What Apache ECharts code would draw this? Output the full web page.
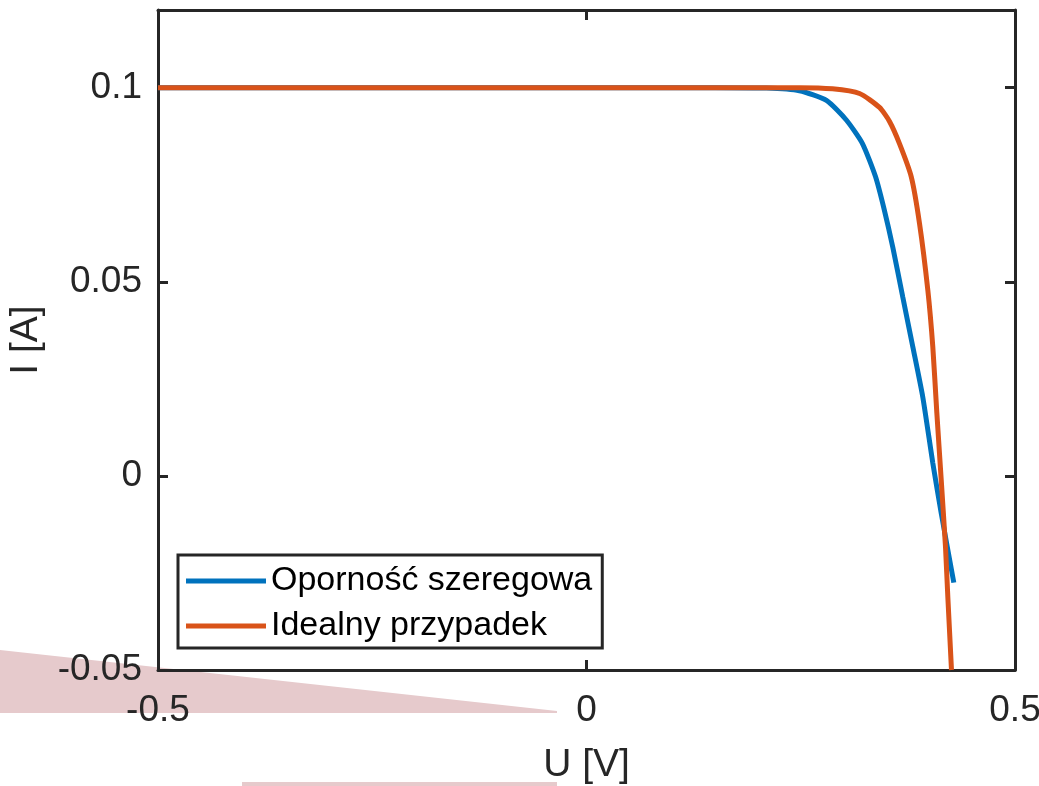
<!DOCTYPE html>
<html>
<head>
<meta charset="utf-8">
<script src="https://cdn.jsdelivr.net/npm/echarts@6/dist/echarts.min.js"></script>
<style>
  html, body { margin: 0; padding: 0; background: #fff; }
  #main { width: 1039px; height: 786px; }
</style>
</head>
<body>
<div id="main"></div>
<script>
// napiecie U [V] i prad I [A]
var uSeries = [-0.5, -0.25, 0, 0.1, 0.15, 0.21, 0.2485, 0.28, 0.3034, 0.322, 0.3372, 0.3474, 0.3574, 0.3691, 0.3808, 0.3924, 0.4041, 0.4139, 0.4286];
var iSeries = [0.1, 0.1, 0.1, 0.1, 0.1, 0.0999, 0.0992, 0.0967, 0.0916, 0.0856, 0.0771, 0.0686, 0.0589, 0.046, 0.0332, 0.0203, 0.0033, -0.0096, -0.0275];

var uIdeal = [-0.5, -0.25, 0, 0.1, 0.2019, 0.2485, 0.287, 0.3186, 0.3419, 0.3536, 0.3652, 0.3789, 0.3886, 0.3983, 0.4041, 0.4088, 0.4139, 0.4189, 0.4216, 0.4259];
var iIdeal = [0.1, 0.1, 0.1, 0.1, 0.1, 0.1, 0.0997, 0.0985, 0.0949, 0.0913, 0.0856, 0.0771, 0.065, 0.0478, 0.0332, 0.0162, -0.001, -0.0183, -0.0311, -0.05];

var names = ['Oporność szeregowa', 'Idealny przypadek'];

function pairs(xs, ys) {
  return xs.map(function (x, k) { return [x, ys[k]]; });
}

var axisColor = '#262626';
var font = 'Arial, "Liberation Sans", Helvetica, sans-serif';

function xAx(pos, labels) {
  return {
    type: 'value', position: pos, min: -0.5, max: 0.5, interval: 0.5,
    name: labels ? 'U [V]' : '', nameLocation: 'middle', nameGap: 76,
    nameTextStyle: { fontSize: 39, color: axisColor, fontFamily: font },
    axisLine: { onZero: false, lineStyle: { color: axisColor, width: 3 } },
    axisTick: { inside: true, length: 10, lineStyle: { color: axisColor, width: 3 } },
    axisLabel: { show: labels, fontSize: 37, color: axisColor, fontFamily: font, margin: 22 },
    splitLine: { show: false }
  };
}
function yAx(pos, labels) {
  return {
    type: 'value', position: pos, min: -0.05, max: 0.12, interval: 0.05,
    name: labels ? 'I [A]' : '', nameLocation: 'middle', nameGap: 112,
    nameTextStyle: { fontSize: 39, color: axisColor, fontFamily: font },
    axisLine: { onZero: false, lineStyle: { color: axisColor, width: 3 } },
    axisTick: { inside: true, length: 10, lineStyle: { color: axisColor, width: 3 } },
    axisLabel: { show: labels, showMaxLabel: false, fontSize: 37, color: axisColor, fontFamily: font, margin: 16 },
    splitLine: { show: false }
  };
}

var myChart = echarts.init(document.getElementById('main'));
var option = {
  backgroundColor: '#fff',
  animation: false,
  grid: { left: 158, right: 24, top: 10, bottom: 116, outerBoundsMode: 'none' },
  xAxis: [xAx('bottom', true), xAx('top', false)],
  yAxis: [yAx('left', true), yAx('right', false)],
  legend: {
    orient: 'vertical', left: 178, top: 555,
    backgroundColor: '#fff', borderColor: axisColor, borderWidth: 3, borderRadius: 0,
    padding: [7, 10, 3, 8], itemGap: 7,
    icon: 'rect', itemWidth: 80, itemHeight: 5,
    textStyle: { fontSize: 34, color: '#000', fontFamily: font, lineHeight: 38 },
    data: names
  },
  graphic: [
    { type: 'polygon', z: -1, silent: true,
      shape: { points: [[0, 650], [557, 711], [557, 713], [0, 713]] },
      style: { fill: '#e6cacc' } },
    { type: 'rect', z: -1, silent: true,
      shape: { x: 242, y: 782, width: 315, height: 4 },
      style: { fill: '#e6cacc' } }
  ],
  series: [
    { name: names[0], type: 'line', data: pairs(uSeries, iSeries), showSymbol: false, symbol: 'none',
      smooth: 0.2, lineStyle: { color: '#0072BD', width: 5 }, itemStyle: { color: '#0072BD' } },
    { name: names[1], type: 'line', data: pairs(uIdeal, iIdeal), showSymbol: false, symbol: 'none',
      smooth: 0.2, lineStyle: { color: '#D95319', width: 5 }, itemStyle: { color: '#D95319' } }
  ]
};
myChart.setOption(option);
</script>
</body>
</html>
